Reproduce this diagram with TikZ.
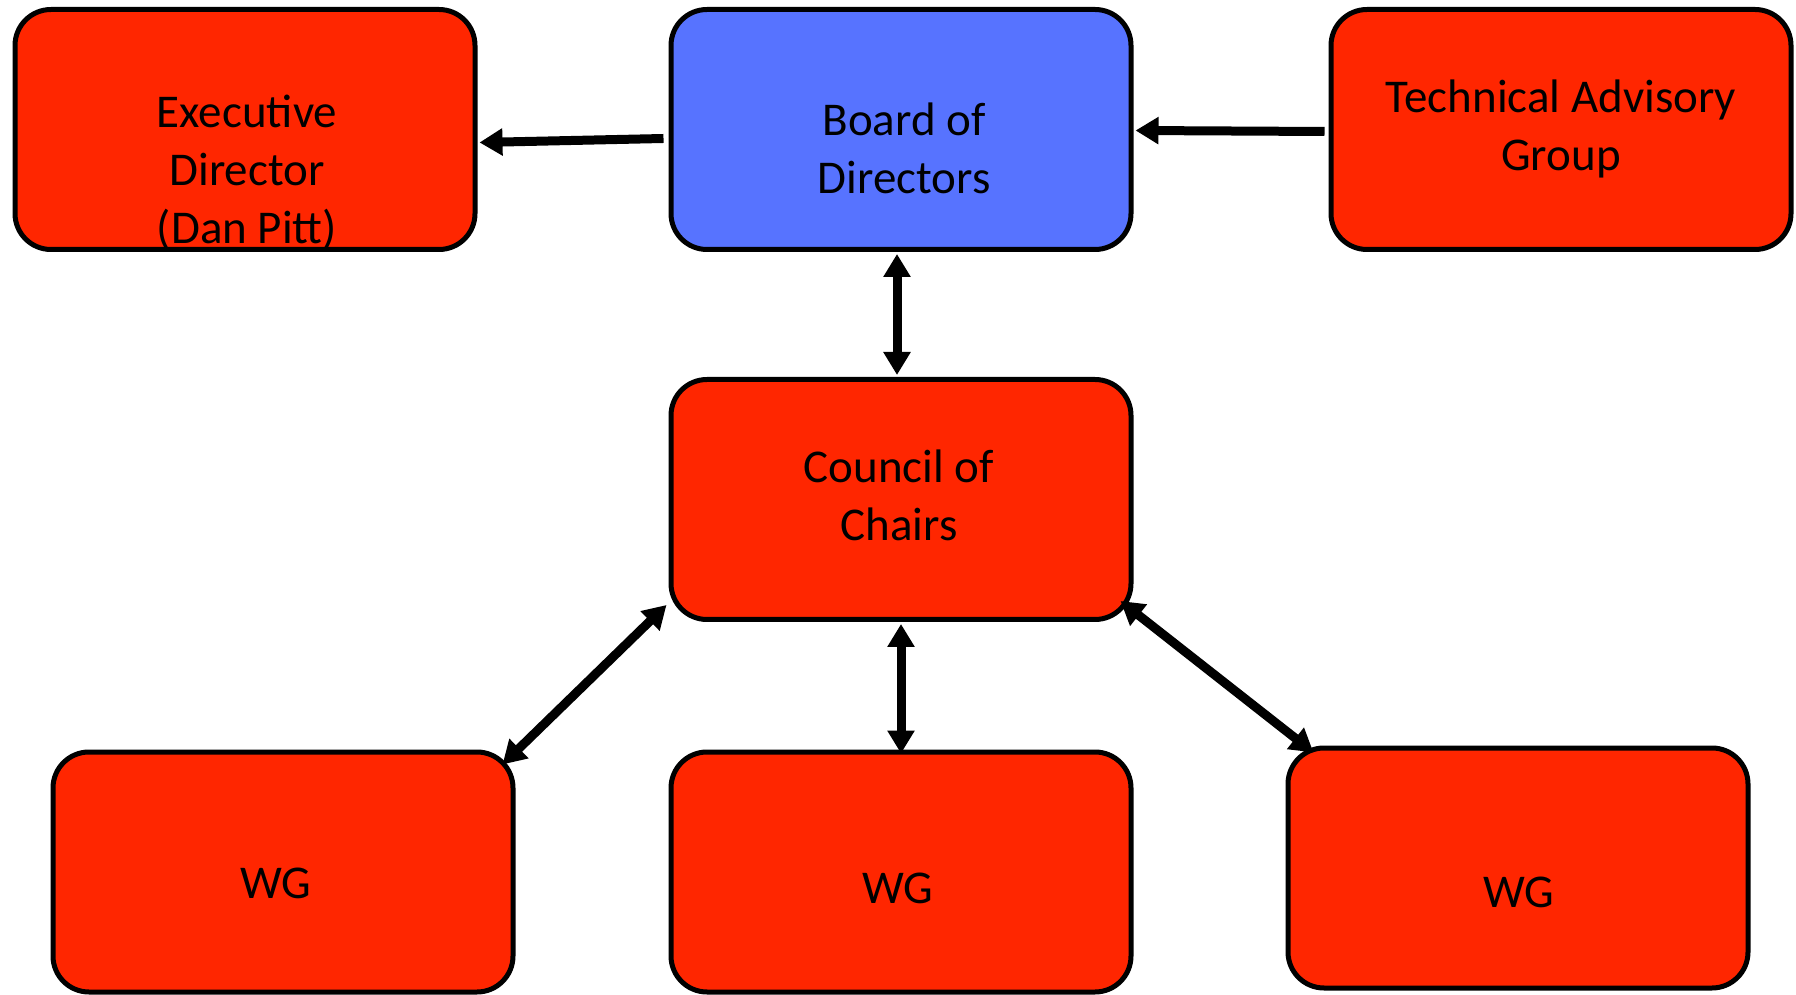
\documentclass[tikz,border=0pt]{standalone}
\usepackage{fontspec}
\setmainfont{Carlito}
\usetikzlibrary{arrows.meta}
\definecolor{boxred}{RGB}{255,38,0}
\definecolor{boxblue}{RGB}{87,115,255}
\begin{document}
\begin{tikzpicture}[x=1pt,y=1pt,
  box/.style={draw=black, line width=5pt, rounded corners=36pt, fill=boxred,
    minimum width=460pt, minimum height=240pt, inner sep=0pt},
  boxtext/.style={font=\fontsize{47}{58}\selectfont, align=center, inner sep=0pt},
  link/.style={line width=9pt, -{Triangle[length=23pt,width=26pt]}},
  twoway/.style={line width=9pt, {Triangle[length=23pt,width=26pt]}-{Triangle[length=23pt,width=26pt]}}]
\useasboundingbox (0,0) rectangle (1796,994);

% boxes
\node[box] (exec) at (245,864.5) {};
\node[box, fill=boxblue] (board) at (901,864.5) {};
\node[box] (tag) at (1561,864.5) {};
\node[box] (council) at (901,494.5) {};
\node[box] (wga) at (283,122) {};
\node[box] (wgb) at (901,122) {};
\node[box] (wgc) at (1518,126) {};

% box texts
\node[boxtext] (execlabel) at (247,821) {Executive\\Director\\(Dan Pitt)};
\node[boxtext] (boardlabel) at (904,846) {Board of\\Directors};
\node[boxtext] (taglabel) at (1561,865) {Technical Advisory\\Group};
\node[boxtext] (councillabel) at (899,499) {Council of\\Chairs};
\node[boxtext] (wgalabel) at (276,111) {WG};
\node[boxtext] (wgblabel) at (898,106) {WG};
\node[boxtext] (wgclabel) at (1519,102) {WG};

% connectors
\draw[link] ([xshift=-5pt,yshift=-9pt]board.west) -- ([xshift=2pt,yshift=-13pt]exec.east);
\draw[link] ([xshift=-4pt,yshift=-2pt]tag.west) -- ([xshift=2pt,yshift=-1pt]board.east);
\draw[twoway] ([xshift=-4pt,yshift=-2pt]board.south) -- ([xshift=-4pt,yshift=2pt]council.north);
\draw[twoway] ([xshift=-2pt,yshift=17pt]council.south west) -- ([xshift=-13pt,yshift=-15pt]wga.north east);
\draw[twoway] ([yshift=-2pt]council.south) -- ([yshift=-4pt]wgb.north);
\draw[twoway] ([xshift=-13pt,yshift=21pt]council.south east) -- ([xshift=28pt,yshift=-7pt]wgc.north west);
\end{tikzpicture}
\end{document}
